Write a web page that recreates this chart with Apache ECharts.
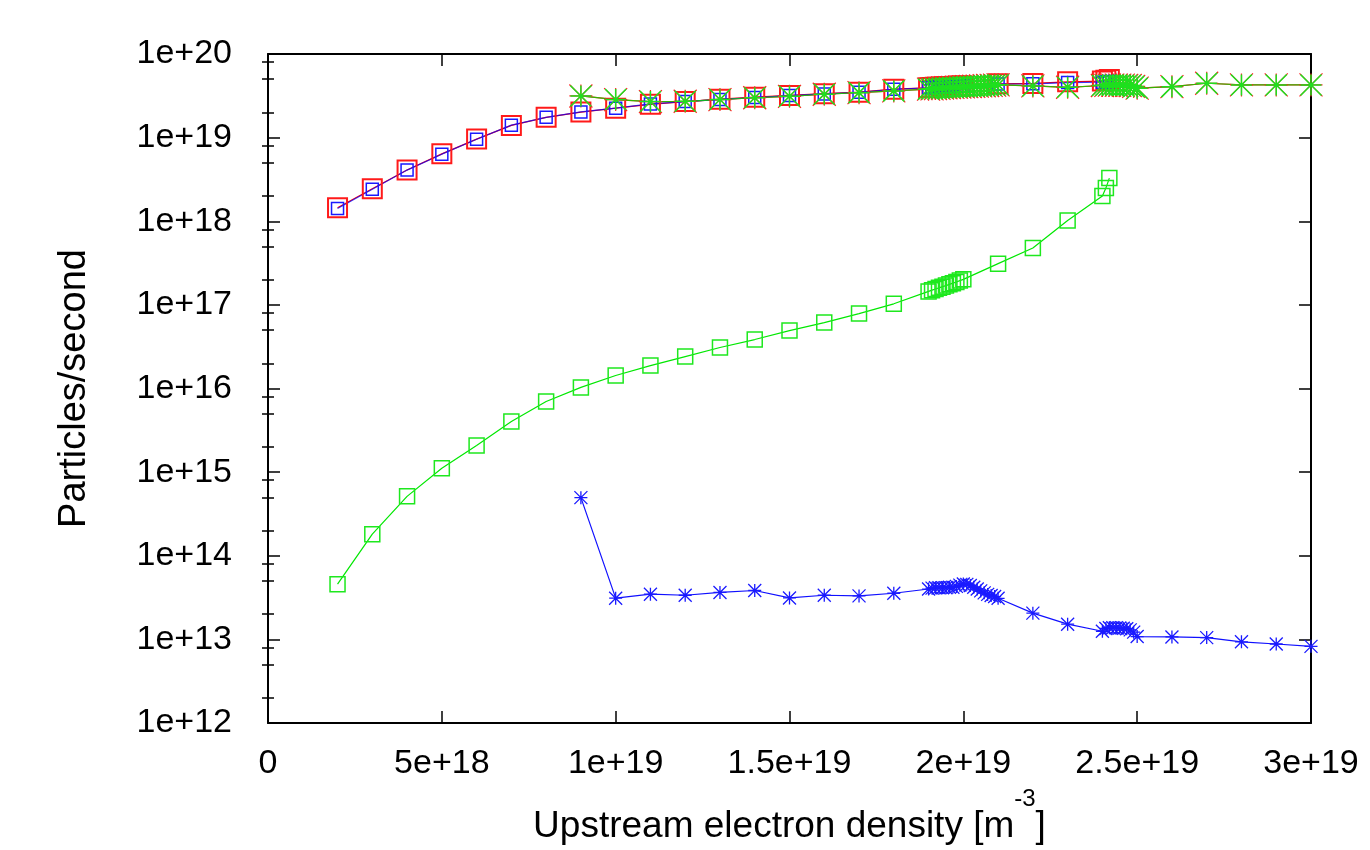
<!DOCTYPE html>
<html>
<head>
<meta charset="utf-8">
<script src="https://cdn.jsdelivr.net/npm/echarts@6/dist/echarts.min.js"></script>
<style>
html,body{margin:0;padding:0;background:#fff;}
#chart{width:1370px;height:850px;}
</style>
</head>
<body>
<div id="chart"></div>
<script>
// ---- data ----
// x values shared by the square series
const xSquares = [2e18,3e18,4e18,5e18,6e18,7e18,8e18,9e18,1.0e19,1.1e19,1.2e19,1.3e19,1.4e19,1.5e19,1.6e19,1.7e19,1.8e19,
  1.90e19,1.91e19,1.92e19,1.93e19,1.94e19,1.95e19,1.96e19,1.97e19,1.98e19,1.99e19,2.00e19,
  2.1e19,2.2e19,2.3e19,2.40e19,2.41e19,2.42e19];
// x values shared by the star series
const xStars = [9e18,1.0e19,1.1e19,1.2e19,1.3e19,1.4e19,1.5e19,1.6e19,1.7e19,1.8e19,
  1.90e19,1.91e19,1.92e19,1.93e19,1.94e19,1.95e19,1.96e19,1.97e19,1.98e19,1.99e19,2.00e19,
  2.01e19,2.02e19,2.03e19,2.04e19,2.05e19,2.06e19,2.07e19,2.08e19,2.09e19,2.10e19,
  2.2e19,2.3e19,
  2.40e19,2.41e19,2.42e19,2.43e19,2.44e19,2.45e19,2.46e19,2.47e19,2.48e19,2.49e19,2.50e19,
  2.6e19,2.7e19,2.8e19,2.9e19,3.0e19];

const redSquares = [1.45e18,2.45e18,4.1e18,6.4e18,9.6e18,1.4e19,1.75e19,2.02e19,2.25e19,2.5e19,2.7e19,2.88e19,3.05e19,3.2e19,3.35e19,3.5e19,3.8e19,
  3.95e19,3.97e19,3.99e19,4.01e19,4.03e19,4.05e19,4.07e19,4.09e19,4.11e19,4.13e19,4.15e19,
  4.4e19,4.45e19,4.65e19,4.75e19,4.85e19,4.95e19];
const blueSquares = [1.42e18,2.42e18,4.09e18,6.34e18,9.58e18,1.41e19,1.75e19,2.03e19,2.25e19,2.53e19,2.7e19,2.86e19,3.02e19,3.18e19,3.33e19,3.49e19,3.78e19,
  3.95e19,3.97e19,3.99e19,4.01e19,4.03e19,4.05e19,4.07e19,4.09e19,4.11e19,4.13e19,4.15e19,
  4.38e19,4.4e19,4.55e19,4.6e19,4.65e19,4.7e19];
const greenSquares = [4.57e13,1.81e14,5.13e14,1.11e15,2.08e15,4.03e15,7.0e15,1.03e16,1.43e16,1.88e16,2.41e16,3.09e16,3.85e16,4.93e16,6.14e16,7.87e16,1.03e17,
  1.45e17,1.5e17,1.55e17,1.6e17,1.65e17,1.7e17,1.76e17,1.82e17,1.88e17,1.95e17,2.02e17,
  3.11e17,4.79e17,1.02e18,2.01e18,2.49e18,3.28e18];
const greenStars = [3.15e19,2.85e19,2.7e19,2.72e19,2.85e19,3.0e19,3.12e19,3.3e19,3.45e19,3.62e19,
  3.8e19,3.83e19,3.86e19,3.89e19,3.92e19,3.95e19,3.97e19,3.99e19,4.01e19,4.03e19,4.05e19,
  4.07e19,4.09e19,4.11e19,4.13e19,4.15e19,4.17e19,4.2e19,4.22e19,4.25e19,4.28e19,
  4.15e19,4.0e19,
  4.2e19,4.22e19,4.24e19,4.25e19,4.25e19,4.25e19,4.24e19,4.22e19,4.2e19,4.1e19,3.9e19,
  4.07e19,4.47e19,4.27e19,4.27e19,4.27e19];
const redStars = greenStars.slice();
const blueStars = [4.95e14,3.11e13,3.47e13,3.37e13,3.64e13,3.84e13,3.13e13,3.37e13,3.31e13,3.56e13,
  4.0e13,4.1e13,4.15e13,4.15e13,4.15e13,4.15e13,4.2e13,4.2e13,4.3e13,4.45e13,4.6e13,
  4.55e13,4.4e13,4.2e13,4.0e13,3.8e13,3.6e13,3.45e13,3.35e13,3.25e13,3.1e13,
  2.06e13,1.52e13,
  1.25e13,1.35e13,1.38e13,1.38e13,1.38e13,1.37e13,1.36e13,1.34e13,1.3e13,1.22e13,1.08e13,
  1.07e13,1.05e13,9.35e12,8.8e12,8.25e12];

const xTickLabels = ['0','5e+18','1e+19','1.5e+19','2e+19','2.5e+19','3e+19'];
const yTickLabels = ['1e+12','1e+13','1e+14','1e+15','1e+16','1e+17','1e+18','1e+19','1e+20'];
const minorMantissas = [2,5,8];

// ---- chart ----
const FONT = '"Liberation Sans", Arial, Helvetica, sans-serif';
const STAR = 'path://M0,10L20,10M10,0L10,20M0,0L20,20M20,0L0,20';
const pairs = (xs, ys) => xs.map((x, i) => [x, ys[i]]);

const minorTicks = [];
for (let e = 12; e < 20; e++) minorMantissas.forEach(m => minorTicks.push(e + Math.log10(m)));

const chart = echarts.init(document.getElementById('chart'), null, {renderer: 'canvas'});

function mk(name, xs, ys, symbol, size, color, bw, lineColor, lineOpacity) {
  return {
    name, type: 'line', xAxisIndex: 0, yAxisIndex: 0,
    data: pairs(xs, ys), symbol, symbolSize: size, showAllSymbol: true, clip: false,
    itemStyle: {color: 'rgba(0,0,0,0)', borderColor: color, borderWidth: bw},
    lineStyle: {color: lineColor, width: 1.2, opacity: lineOpacity},
    emphasis: {disabled: true}, silent: true
  };
}

const axisBase = {
  axisLine: {show: true, onZero: false, lineStyle: {color: '#000', width: 2}},
  splitLine: {show: false}
};

chart.setOption({
  animation: false,
  backgroundColor: '#fff',
  textStyle: {fontFamily: FONT},
  grid: {left: 268, right: 59, top: 54, bottom: 126, containLabel: false},
  xAxis: [
    Object.assign({}, axisBase, {
      type: 'value', position: 'bottom', min: 0, max: 3e19, interval: 5e18,
      axisTick: {show: true, inside: true, length: 12, lineStyle: {color: '#000', width: 1.5}},
      axisLabel: {show: true, color: '#000', fontSize: 34, fontFamily: FONT, margin: 24,
        formatter: v => xTickLabels[Math.round(v / 5e18)]},
      name: '{b|Upstream electron density [m}{s|-3}{b|]}',
      nameLocation: 'middle', nameGap: 64,
      nameTextStyle: {
        rich: {
          b: {fontSize: 37, fontFamily: FONT, color: '#000', lineHeight: 58, verticalAlign: 'bottom'},
          s: {fontSize: 24, fontFamily: FONT, color: '#000', lineHeight: 34, verticalAlign: 'top'}
        }
      }
    }),
    Object.assign({}, axisBase, {
      type: 'value', position: 'top', min: 0, max: 3e19, interval: 5e18,
      axisTick: {show: true, inside: true, length: 12, lineStyle: {color: '#000', width: 1.5}},
      axisLabel: {show: false}
    })
  ],
  yAxis: [
    Object.assign({}, axisBase, {
      type: 'log', logBase: 10, position: 'left', min: 1e12, max: 1e20, interval: 1, splitNumber: 8,
      axisTick: {show: true, inside: true, length: 12, lineStyle: {color: '#000', width: 1.5}},
      minorTick: {show: false},
      axisLabel: {show: true, color: '#000', fontSize: 34, fontFamily: FONT, margin: 36,
        formatter: v => yTickLabels[Math.round(Math.log10(v)) - 12]},
      name: 'Particles/second', nameLocation: 'middle', nameGap: 174, nameRotate: 90,
      nameTextStyle: {fontSize: 38, fontFamily: FONT, color: '#000'}
    }),
    Object.assign({}, axisBase, {
      type: 'log', logBase: 10, position: 'right', min: 1e12, max: 1e20, interval: 1, splitNumber: 8,
      axisTick: {show: true, inside: true, length: 12, lineStyle: {color: '#000', width: 1.5}},
      axisLabel: {show: false}
    }),
    {
      type: 'value', position: 'left', min: 12, max: 20,
      axisLine: {show: false}, splitLine: {show: false}, axisLabel: {show: false},
      axisTick: {show: true, inside: true, length: 6, customValues: minorTicks, lineStyle: {color: '#000', width: 1.5}}
    },
    {
      type: 'value', position: 'right', min: 12, max: 20,
      axisLine: {show: false}, splitLine: {show: false}, axisLabel: {show: false},
      axisTick: {show: true, inside: true, length: 6, customValues: minorTicks, lineStyle: {color: '#000', width: 1.5}}
    }
  ],
  series: [
    mk('red squares', xSquares, redSquares, 'rect', 19, '#ff1a1a', 2, '#ff0000', 1),
    mk('red stars', xStars, redStars, STAR, 23, '#ff2020', 1.2, '#ff0000', 1),
    mk('blue squares', xSquares, blueSquares, 'rect', 12, '#1a1aff', 1.5, '#0000ff', 0.75),
    mk('green stars', xStars, greenStars, STAR, 21, '#1ee01e', 1.5, '#00e000', 0.8),
    mk('green squares', xSquares, greenSquares, 'rect', 15, '#1ee81e', 1.5, '#00e800', 1),
    mk('blue stars', xStars, blueStars, STAR, 13, '#1a1aff', 1.3, '#1010ff', 1)
  ]
});
</script>
</body>
</html>
